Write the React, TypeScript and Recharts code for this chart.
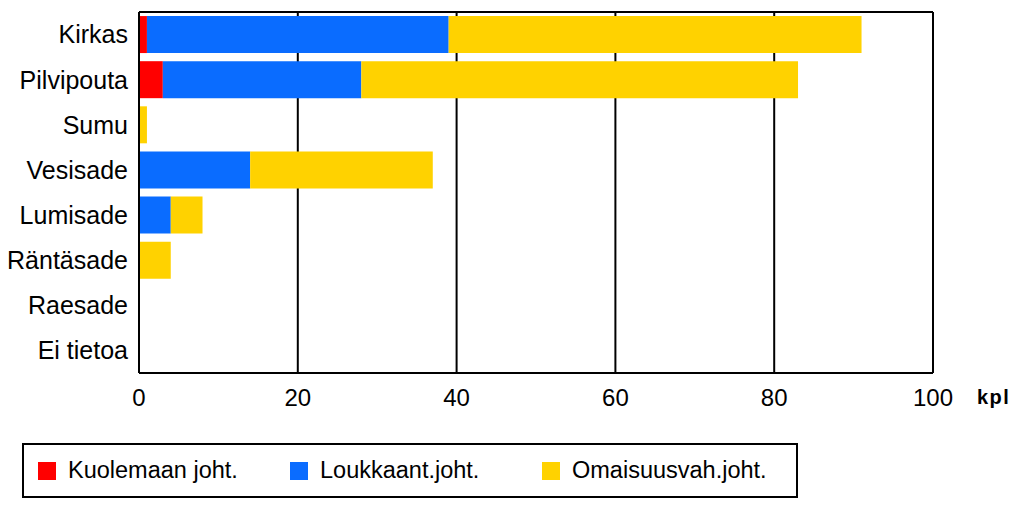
import { BarChart, Bar, XAxis, YAxis, CartesianGrid } from 'recharts';

// Sääolosuhteet, onnettomuudet (kpl)
const categories = ['Kirkas', 'Pilvipouta', 'Sumu', 'Vesisade', 'Lumisade', 'Räntäsade', 'Raesade', 'Ei tietoa'];
const kuolemaan = [1, 3, 0, 0, 0, 0, 0, 0];
const loukkaant = [38, 25, 0, 14, 4, 0, 0, 0];
const omaisuus = [52, 55, 1, 23, 4, 4, 0, 0];
const xTicks = [0, 20, 40, 60, 80, 100];

const series = [
  { key: 'kuolemaan', label: 'Kuolemaan joht.', color: '#ff0000' },
  { key: 'loukkaant', label: 'Loukkaant.joht.', color: '#0a6cff' },
  { key: 'omaisuus', label: 'Omaisuusvah.joht.', color: '#ffd200' },
];

const data = categories.map((name, i) => ({
  name,
  kuolemaan: kuolemaan[i],
  loukkaant: loukkaant[i],
  omaisuus: omaisuus[i],
}));

const FONT = '"Liberation Sans", Arial, sans-serif';

export default function App() {
  return (
    <div style={{ position: 'absolute', left: 0, top: 0, width: 1023, height: 517, background: '#fff', fontFamily: FONT }}>
      <BarChart
        width={1023}
        height={517}
        data={data}
        layout="vertical"
        margin={{ top: 11, right: 90, left: 0, bottom: 114 }}
        barCategoryGap="9%"
      >
        <CartesianGrid horizontal={false} stroke="#000" strokeWidth={2} />
        <XAxis
          type="number"
          domain={[0, 100]}
          ticks={xTicks}
          height={30}
          tickLine={false}
          tickSize={0}
          tickMargin={16}
          axisLine={{ stroke: '#000', strokeWidth: 2 }}
          tick={{ fill: '#000', fontSize: 24, fontFamily: FONT }}
        />
        <XAxis
          xAxisId="top"
          orientation="top"
          type="number"
          domain={[0, 100]}
          height={1}
          tick={false}
          tickLine={false}
          axisLine={{ stroke: '#000', strokeWidth: 2 }}
        />
        <YAxis
          type="category"
          dataKey="name"
          width={139}
          tickLine={false}
          tickSize={0}
          tickMargin={11}
          axisLine={{ stroke: '#000', strokeWidth: 2 }}
          tick={{ fill: '#000', fontSize: 25, fontFamily: FONT }}
        />
        {series.map(s => (
          <Bar key={s.key} dataKey={s.key} stackId="a" fill={s.color} isAnimationActive={false} />
        ))}
      </BarChart>
      <span
        style={{
          position: 'absolute',
          left: 977,
          top: 385,
          fontSize: 20,
          fontWeight: 'bold',
          letterSpacing: 1.5,
          lineHeight: '24px',
        }}
      >
        kpl
      </span>
      <div
        style={{
          position: 'absolute',
          left: 22,
          top: 443,
          width: 776,
          height: 55,
          border: '2px solid #000',
          display: 'flex',
          alignItems: 'center',
          paddingLeft: 14,
          boxSizing: 'border-box',
        }}
      >
        {series.map(s => (
          <div key={s.key} style={{ width: 252, display: 'flex', alignItems: 'center', fontSize: 23.5 }}>
            <span style={{ width: 18, height: 18, background: s.color, marginRight: 12, display: 'inline-block', flexShrink: 0 }} />
            <span>{s.label}</span>
          </div>
        ))}
      </div>
    </div>
  );
}
